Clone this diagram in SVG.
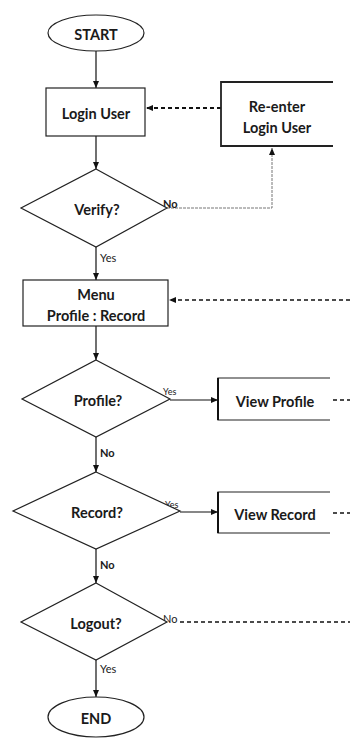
<svg xmlns="http://www.w3.org/2000/svg" width="350" height="740" viewBox="0 0 350 740">
<style>
.shape{fill:#fff;stroke:#222;stroke-width:1.2}
.edge{fill:none;stroke:#111;stroke-width:1.2}
.dash{fill:none;stroke:#111;stroke-width:1.3;stroke-dasharray:4 3}
.thin{fill:none;stroke:#777;stroke-width:1;stroke-dasharray:3 1}
.t{font-family:Lato,"Liberation Sans",sans-serif;font-weight:700;font-size:14.5px;fill:#1a1a1a;text-anchor:middle;dominant-baseline:central}
.lbl{font-family:Lato,"Liberation Sans",sans-serif;font-size:11px;fill:#1a1a1a}
</style>
<defs>
<marker id="arr" markerUnits="userSpaceOnUse" markerWidth="8" markerHeight="8" viewBox="0 0 8 8" refX="7" refY="4" orient="auto">
<path d="M0,1 L7,4 L0,7 Z" fill="#111"/>
</marker>
</defs>
<rect width="350" height="740" fill="#fff"/>
<g id="connectors">
<line class="edge" x1="96" y1="51" x2="96" y2="88" marker-end="url(#arr)"/>
<line class="dash" x1="221" y1="108" x2="146" y2="108" style="stroke-width:2.2" marker-end="url(#arr)"/>
<line class="edge" x1="96" y1="136" x2="96" y2="169" marker-end="url(#arr)"/>
<polyline class="thin" points="167,208 272,208 272,148" marker-end="url(#arr)"/>
<line class="edge" x1="96" y1="247" x2="96" y2="280" marker-end="url(#arr)"/>
<line class="dash" x1="350" y1="300" x2="169" y2="300" style="stroke-width:1.6" marker-end="url(#arr)"/>
<line class="edge" x1="96" y1="326" x2="96" y2="360" marker-end="url(#arr)"/>
<line class="edge" x1="170" y1="400" x2="218" y2="400" marker-end="url(#arr)"/>
<line class="dash" x1="333" y1="400" x2="350" y2="400"/>
<line class="edge" x1="96" y1="437" x2="96" y2="472" marker-end="url(#arr)"/>
<line class="edge" x1="180" y1="512" x2="218" y2="512" marker-end="url(#arr)"/>
<line class="dash" x1="333" y1="513" x2="350" y2="513"/>
<line class="edge" x1="96" y1="549" x2="96" y2="583" marker-end="url(#arr)"/>
<line class="dash" x1="180" y1="622" x2="350" y2="622"/>
<line class="edge" x1="96" y1="660" x2="96" y2="697" marker-end="url(#arr)"/>
<text class="lbl" x="163" y="208" style="font-weight:700">No</text>
<text class="lbl" x="100" y="262">Yes</text>
<text class="lbl" x="163" y="395" style="font-size:9px">Yes</text>
<text class="lbl" x="100" y="457" style="font-weight:700">No</text>
<text class="lbl" x="165" y="508" style="font-size:9px">Yes</text>
<text class="lbl" x="100" y="569" style="font-weight:700">No</text>
<text class="lbl" x="163" y="623">No</text>
<text class="lbl" x="100" y="673">Yes</text>
</g>
<g id="start">
<ellipse class="shape" cx="96" cy="33" rx="48" ry="18"/>
<text class="t" x="96" y="34">START</text>
</g>
<g id="login">
<rect class="shape" x="46" y="88" width="99" height="48"/>
<text class="t" x="96" y="113">Login User</text>
</g>
<g id="reenter">
<rect x="221" y="82" width="112" height="64" fill="#fff"/>
<path class="shape" d="M333,82 H221 V146 H333" style="stroke-width:1.8"/>
<text class="t" x="277" y="106">Re-enter</text>
<text class="t" x="277" y="127">Login User</text>
</g>
<g id="verify">
<polygon class="shape" points="96,169 167,208 96,247 21,208"/>
<text class="t" x="97" y="209">Verify?</text>
</g>
<g id="menu">
<rect class="shape" x="23" y="280" width="145" height="46"/>
<text class="t" x="96" y="294">Menu</text>
<text class="t" x="96" y="315">Profile : Record</text>
</g>
<g id="profile">
<polygon class="shape" points="96,360 170,399 96,437 22,399"/>
<text class="t" x="98" y="400">Profile?</text>
</g>
<g id="viewprofile">
<rect x="218" y="378" width="112" height="42" fill="#fff"/>
<path class="shape" d="M330,378 H218 V420 H330"/>
<line x1="218" y1="378" x2="218" y2="420" stroke="#111" stroke-width="2"/>
<text class="t" x="275" y="401">View Profile</text>
</g>
<g id="record">
<polygon class="shape" points="96,472 180,511 96,549 13,511"/>
<text class="t" x="97" y="512">Record?</text>
</g>
<g id="viewrecord">
<rect x="218" y="492" width="112" height="41" fill="#fff"/>
<path class="shape" d="M330,492 H218 V533 H330"/>
<line x1="218" y1="492" x2="218" y2="533" stroke="#111" stroke-width="2"/>
<text class="t" x="275" y="514">View Record</text>
</g>
<g id="logout">
<polygon class="shape" points="96,583 167,622 96,660 21,622"/>
<text class="t" x="96" y="623">Logout?</text>
</g>
<g id="end">
<ellipse class="shape" cx="96" cy="717" rx="48" ry="20"/>
<text class="t" x="96" y="718">END</text>
</g>
</svg>
